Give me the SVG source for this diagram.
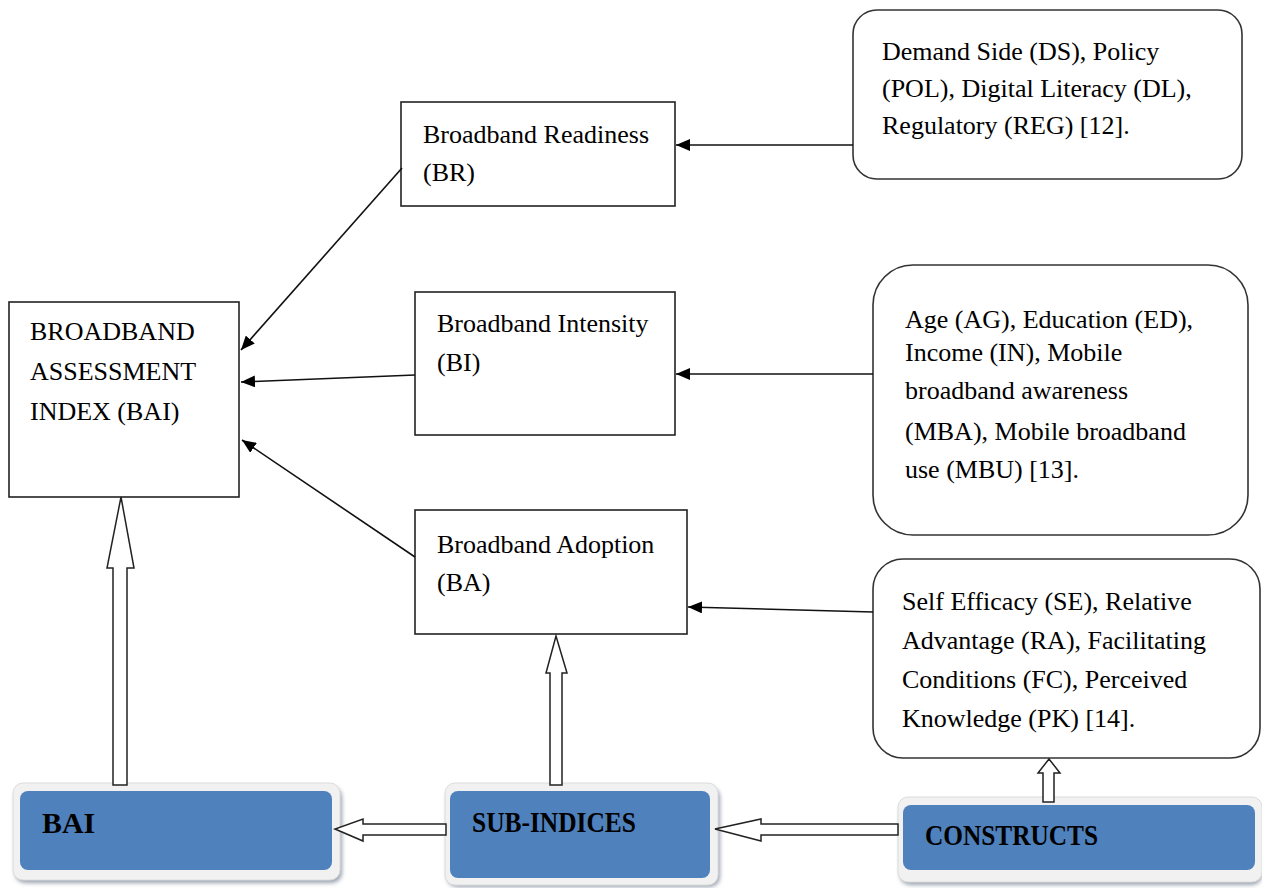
<svg xmlns="http://www.w3.org/2000/svg" width="1262" height="888" viewBox="0 0 1262 888">
<defs>
<style>
.box{fill:#fff;stroke:#222;stroke-width:1.6}
.rbox{fill:#fff;stroke:#333;stroke-width:1.6}
.t{font-family:'Liberation Serif','Tinos','DejaVu Serif',serif;font-size:26px;fill:#000}
.bt{font-family:'Liberation Serif','Tinos','DejaVu Serif',serif;font-size:29px;font-weight:bold;fill:#000}
.con{fill:none;stroke:#111;stroke-width:1.6}
.blk{fill:#fff;stroke:#222;stroke-width:1.5;stroke-linejoin:miter}
.frame{fill:#f1f1f1;stroke:#dcdcdc;stroke-width:1}
.blue{fill:#4f81bd}
.shadow{fill:#9aa3b0;filter:url(#blur)}
</style>
<filter id="blur" x="-10%" y="-10%" width="120%" height="130%"><feGaussianBlur stdDeviation="2"/></filter>
<marker id="ah" viewBox="0 0 14 12" refX="14" refY="6" markerWidth="14" markerHeight="12" markerUnits="userSpaceOnUse" orient="auto">
<path d="M0,0 L14,6 L0,12 Z" fill="#000"/>
</marker>
</defs>

<g id="bai-box" font-family="Liberation Serif">
<rect class="box" x="9" y="302" width="230" height="195"/>
<text class="t" x="30" y="340">BROADBAND</text>
<text class="t" x="30" y="380">ASSESSMENT</text>
<text class="t" x="30" y="420">INDEX (BAI)</text>
</g>

<g id="br-box">
<rect class="box" x="401" y="102" width="274" height="104"/>
<text class="t" x="423" y="143">Broadband Readiness</text>
<text class="t" x="423" y="181">(BR)</text>
</g>

<g id="bi-box">
<rect class="box" x="415" y="292" width="260" height="143"/>
<text class="t" x="437" y="332">Broadband Intensity</text>
<text class="t" x="437" y="371">(BI)</text>
</g>

<g id="ba-box">
<rect class="box" x="415" y="510" width="272" height="124"/>
<text class="t" x="437" y="553">Broadband Adoption</text>
<text class="t" x="437" y="591">(BA)</text>
</g>

<g id="br-constructs">
<rect class="rbox" x="853" y="10" width="389" height="169" rx="24" ry="24"/>
<text class="t" x="882" y="60">Demand Side (DS), Policy</text>
<text class="t" x="882" y="97">(POL), Digital Literacy (DL),</text>
<text class="t" x="882" y="134">Regulatory (REG) [12].</text>
</g>

<g id="bi-constructs">
<rect class="rbox" x="873" y="265" width="375" height="270" rx="40" ry="40"/>
<text class="t" x="905" y="328">Age (AG), Education (ED),</text>
<text class="t" x="905" y="361">Income (IN), Mobile</text>
<text class="t" x="905" y="399">broadband awareness</text>
<text class="t" x="905" y="440">(MBA), Mobile broadband</text>
<text class="t" x="905" y="478">use (MBU) [13].</text>
</g>

<g id="ba-constructs">
<rect class="rbox" x="873" y="559" width="387" height="199" rx="30" ry="30"/>
<text class="t" x="902" y="610">Self Efficacy (SE), Relative</text>
<text class="t" x="902" y="649">Advantage (RA), Facilitating</text>
<text class="t" x="902" y="688">Conditions (FC), Perceived</text>
<text class="t" x="902" y="727">Knowledge (PK) [14].</text>
</g>

<g id="bai-label">
<rect class="shadow" x="15" y="787" width="327" height="96" rx="10"/>
<rect class="frame" x="13" y="783" width="327" height="97" rx="10"/>
<rect class="blue" x="20" y="791" width="312" height="79" rx="8"/>
<text class="bt" x="42" y="833" textLength="53" lengthAdjust="spacingAndGlyphs">BAI</text>
</g>

<g id="subindices-label">
<rect class="shadow" x="447" y="787" width="273" height="100" rx="10"/>
<rect class="frame" x="445" y="783" width="273" height="102" rx="10"/>
<rect class="blue" x="450" y="791" width="260" height="87" rx="8"/>
<text class="bt" x="472" y="832" textLength="164" lengthAdjust="spacingAndGlyphs">SUB-INDICES</text>
</g>

<g id="constructs-label">
<rect class="shadow" x="900" y="801" width="362" height="84" rx="10"/>
<rect class="frame" x="898" y="797" width="364" height="85" rx="10"/>
<rect class="blue" x="903" y="805" width="352" height="65" rx="8"/>
<text class="bt" x="925" y="845" textLength="173" lengthAdjust="spacingAndGlyphs">CONSTRUCTS</text>
</g>

<g id="connectors">
<line class="con" x1="853" y1="145" x2="676" y2="145" marker-end="url(#ah)"/>
<line class="con" x1="873" y1="374" x2="676" y2="374" marker-end="url(#ah)"/>
<line class="con" x1="873" y1="612" x2="688" y2="607" marker-end="url(#ah)"/>
<line class="con" x1="402" y1="168" x2="241" y2="350" marker-end="url(#ah)"/>
<line class="con" x1="415" y1="375" x2="241" y2="382" marker-end="url(#ah)"/>
<line class="con" x1="415" y1="557" x2="242" y2="440" marker-end="url(#ah)"/>
<polygon class="blk" points="113,785 113,568 107,568 121,497 134,568 127,568 127,785"/>
<polygon class="blk" points="550,785 550,673 546,673 556,636 567,673 562,673 562,785"/>
<polygon class="blk" points="446,824 363,824 363,819 335,829 363,841 363,835 446,835"/>
<polygon class="blk" points="898,824 761,824 761,819 715,829 761,841 761,835 898,835"/>
<polygon class="blk" points="1043,802 1043,773 1038,773 1049,759 1060,773 1054,773 1054,802"/>
</g>
</svg>
